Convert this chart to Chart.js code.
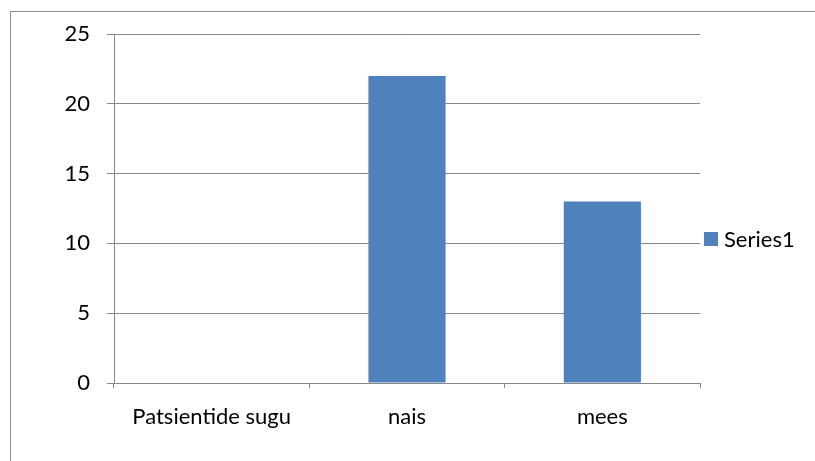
<!DOCTYPE html>
<html>
<head>
<meta charset="utf-8">
<script src="https://cdn.jsdelivr.net/npm/chart.js@4"></script>
<style>
  body { margin: 0; background: #fff; overflow: hidden; }
  #wrap { position: relative; width: 815px; height: 461px; }
  #frame { position: absolute; left: 10px; top: 11px; width: 900px; height: 500px; border: 1px solid #8c8c8c; box-sizing: border-box; }
  canvas { position: absolute; left: 0; top: 0; }
</style>
</head>
<body>
<div id="wrap">
  <div id="frame"></div>
  <canvas id="myChart" width="815" height="461"></canvas>
</div>
<script>
const categories = ['Patsientide sugu', 'nais', 'mees'];
const series1 = [0, 22, 13];
const yTicks = [0, 5, 10, 15, 20, 25];

const fontFamily = 'Lato, "Open Sans", sans-serif';
const fontSize = 22;

// legend drawn by hand at the right of the plot, like the original
const sideLegend = {
    id: 'sideLegend',
    afterDraw(chart) {
        const c = chart.ctx;
        const ds = chart.data.datasets[0];
        c.save();
        c.fillStyle = ds.backgroundColor;
        c.fillRect(704, 232, 14, 14);
        c.fillStyle = '#000';
        c.font = fontSize + 'px ' + fontFamily;
        c.textBaseline = 'middle';
        c.fillText(ds.label, 724, 240);
        c.restore();
    }
};

const ctx = document.getElementById('myChart').getContext('2d');
const myChart = new Chart(ctx, {
    type: 'bar',
    data: {
        labels: categories,
        datasets: [{
            label: 'Series1',
            data: series1,
            backgroundColor: '#4F81BD',
            borderWidth: 0,
            categoryPercentage: 1,
            barPercentage: 0.395,
        }]
    },
    options: {
        responsive: false,
        animation: false,
        layout: { padding: { top: 34, right: 115, left: 0, bottom: 0 } },
        plugins: {
            legend: { display: false },
            tooltip: { enabled: false }
        },
        scales: {
            x: {
                grid: {
                    offset: true,
                    drawOnChartArea: false,
                    color: '#888',
                    tickLength: 5
                },
                border: { color: '#888' },
                ticks: {
                    color: '#000',
                    font: { family: fontFamily, size: fontSize },
                    padding: 16,
                    maxRotation: 0
                },
                afterFit(scale) { scale.height = 78; }
            },
            y: {
                min: 0,
                max: 25,
                afterBuildTicks(scale) { scale.ticks = yTicks.map(v => ({ value: v })); },
                grid: { color: '#888', tickLength: 7 },
                border: { color: '#888' },
                ticks: {
                    color: '#000',
                    font: { family: fontFamily, size: fontSize },
                    padding: 17
                },
                afterFit(scale) { scale.width = 114; }
            }
        }
    },
    plugins: [sideLegend]
});
</script>
</body>
</html>
